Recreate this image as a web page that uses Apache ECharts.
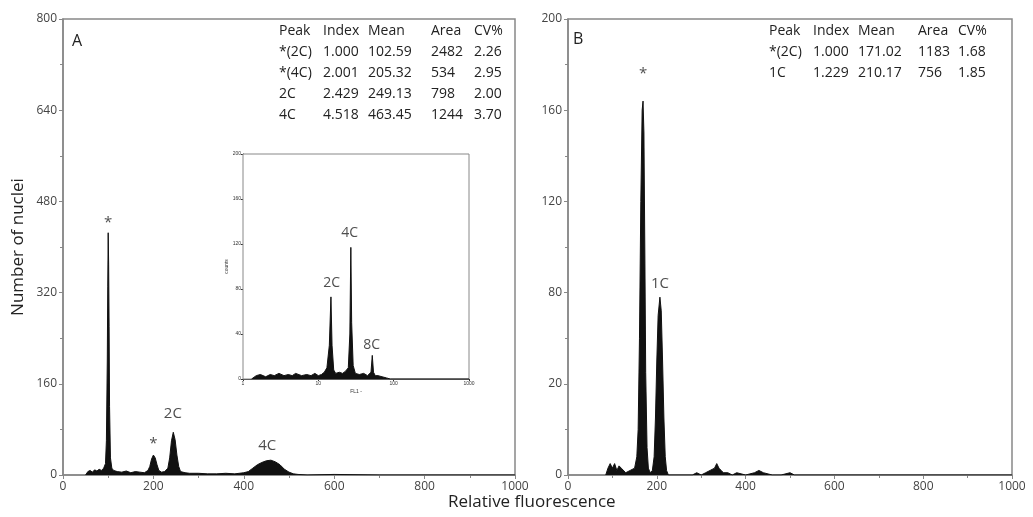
<!DOCTYPE html>
<html>
<head>
<meta charset="utf-8">
<script src="https://cdn.jsdelivr.net/npm/echarts@6/dist/echarts.min.js"></script>
<style>
  html, body { margin: 0; padding: 0; background: #fff; }
  #chart { width: 1033px; height: 517px; }
</style>
</head>
<body>
<div id="chart"></div>
<script>
// panel A histogram: [channel, count]
const histA = [
  [50, 0], [55, 6], [60, 8], [65, 5], [70, 9], [75, 7], [80, 10], [85, 8], [90, 12],
  [94, 20], [96, 60], [98, 200], [99, 330], [100, 425], [101, 370], [102, 260], [103, 120],
  [105, 30], [108, 12], [112, 8], [120, 6], [130, 5], [140, 7], [150, 4], [160, 6],
  [170, 5], [180, 4], [188, 8], [192, 15], [196, 28], [200, 35], [204, 30], [208, 18],
  [212, 8], [218, 5], [225, 6], [232, 12], [236, 30], [240, 60], [244, 75], [248, 62],
  [252, 35], [256, 15], [260, 6], [270, 4], [280, 3], [300, 3], [320, 2], [340, 2],
  [360, 3], [380, 2], [400, 4], [410, 6], [420, 12], [430, 18], [440, 22], [450, 25],
  [460, 26], [470, 23], [480, 18], [490, 10], [500, 5], [510, 2], [520, 1], [540, 0],
  [600, 1], [700, 0], [1000, 0]
]
// panel B histogram
const histB = [
  [85, 0], [90, 3], [95, 5], [100, 3], [105, 5], [110, 2], [115, 4], [120, 3], [130, 1],
  [140, 2], [150, 3], [155, 8], [158, 20], [161, 60], [164, 120], [167, 160], [169, 164],
  [171, 150], [173, 100], [175, 45], [178, 12], [181, 3], [185, 1], [190, 2], [194, 8],
  [197, 25], [200, 50], [203, 70], [207, 78], [210, 72], [213, 50], [216, 25], [219, 8],
  [222, 2], [226, 0], [280, 0], [290, 1], [300, 0], [310, 1], [320, 2], [330, 3], [335, 5],
  [340, 3], [345, 2], [350, 1], [360, 1], [370, 0], [380, 1], [400, 0], [420, 1], [430, 2],
  [440, 1], [460, 0], [480, 0], [500, 1], [510, 0], [1000, 0]
]
// inset (log channel axis)
const histInset = [
  [1.3, 0], [1.5, 3], [1.7, 4], [2, 2], [2.3, 4], [2.6, 3], [3, 5], [3.5, 3], [4, 4],
  [4.5, 3], [5, 5], [6, 3], [7, 4], [8, 3], [9, 5], [10, 3], [11, 4], [12, 6], [13, 10],
  [14, 30], [14.7, 73], [15.2, 30], [16, 8], [17, 5], [19, 6], [21, 5], [23, 7], [25, 10],
  [26.2, 40], [27, 117], [27.7, 50], [29, 12], [31, 5], [35, 4], [40, 5], [45, 3], [50, 6],
  [52, 21], [54, 6], [57, 3], [62, 3], [70, 2], [80, 1], [90, 0], [1000, 0]
]

const peakLabelsA = [['*', 100, 442], ['*', 200, 54], ['2C', 243, 107], ['4C', 452, 52]]
const peakLabelsB = [['*', 169, 176], ['1C', 207, 84]]
const peakLabelsInset = [['2C', 15, 85], ['4C', 26, 130], ['8C', 51, 30]]

const yTicksB = ['0', '20', '80', '120', '160', '200']

const tableHeader = ['Peak', 'Index', 'Mean', 'Area', 'CV%']
const tableA = [
  ['*(2C)', '1.000', '102.59', '2482', '2.26'],
  ['*(4C)', '2.001', '205.32', '534', '2.95'],
  ['2C', '2.429', '249.13', '798', '2.00'],
  ['4C', '4.518', '463.45', '1244', '3.70']
]
const tableB = [
  ['*(2C)', '1.000', '171.02', '1183', '1.68'],
  ['1C', '1.229', '210.17', '756', '1.85']
]

const FONT = 'Open Sans'
const AX = '#888'
const TXT = '#444'

const chart = echarts.init(document.getElementById('chart'))

function makeTable(rows, xs, y0) {
  const out = []
  const all = [tableHeader].concat(rows)
  all.forEach((r, i) => {
    r.forEach((t, j) => {
      out.push({
        type: 'text', left: xs[j], top: y0 + i * 21,
        style: { text: t, font: '14px "' + FONT + '"', fill: '#222' }
      })
    })
  })
  return out
}

function labelSeries(arr, xi, yi, size) {
  return {
    type: 'scatter', xAxisIndex: xi, yAxisIndex: yi, symbolSize: 0, silent: true,
    data: arr.map(d => ({ name: d[0], value: [d[1], d[2]] })),
    label: {
      show: true, position: 'inside', formatter: p => p.name,
      color: '#222', fontSize: size, fontFamily: FONT
    },
    z: 5
  }
}

function histSeries(data, xi, yi) {
  return {
    type: 'line', xAxisIndex: xi, yAxisIndex: yi, data: data, symbol: 'none',
    lineStyle: { color: '#111', width: 1 },
    areaStyle: { color: '#111', opacity: 1 },
    silent: true
  }
}

const plain = v => String(v)
const tick = { show: true, length: 4, lineStyle: { color: AX } }
const minor = { show: true, splitNumber: 2, length: 3, lineStyle: { color: AX } }
const line = { show: true, lineStyle: { color: AX, width: 1.5 } }
const lab = { color: TXT, fontSize: 12, fontFamily: FONT, margin: 6, formatter: plain }
const tiny = { show: true, lineStyle: { color: '#333' } }

chart.setOption({
  animation: false,
  backgroundColor: '#fff',
  grid: [
    { left: 63, top: 19, width: 452, height: 456, show: true, borderColor: AX, borderWidth: 1.5 },
    { left: 568, top: 19, width: 444, height: 456, show: true, borderColor: AX, borderWidth: 1.5 },
    { left: 243, top: 154, width: 226, height: 225, show: true, borderColor: AX, borderWidth: 1, backgroundColor: '#fff', z: 3 }
  ],
  xAxis: [
    { type: 'value', gridIndex: 0, min: 0, max: 1000, interval: 200, axisLine: line, axisTick: tick,
      minorTick: minor, splitLine: { show: false }, axisLabel: lab },
    { type: 'value', gridIndex: 1, min: 0, max: 1000, interval: 200, axisLine: line, axisTick: tick,
      minorTick: minor, splitLine: { show: false }, axisLabel: lab },
    { type: 'log', gridIndex: 2, min: 1, max: 1000, logBase: 10, axisLine: tiny,
      axisTick: { show: true, length: 2, lineStyle: { color: '#333' } }, splitLine: { show: false },
      axisLabel: { fontSize: 5, color: '#333', margin: 2, formatter: plain },
      name: 'FL1 -', nameLocation: 'middle', nameGap: 10, nameTextStyle: { fontSize: 5, color: '#333' } }
  ],
  yAxis: [
    { type: 'value', gridIndex: 0, min: 0, max: 800, interval: 160, axisLine: line, axisTick: tick,
      minorTick: minor, splitLine: { show: false }, axisLabel: lab,
      name: 'Number of nuclei', nameLocation: 'middle', nameGap: 36,
      nameTextStyle: { fontSize: 17, color: '#222', fontFamily: FONT } },
    { type: 'value', gridIndex: 1, min: 0, max: 200, interval: 40, axisLine: line, axisTick: tick,
      minorTick: minor, splitLine: { show: false },
      axisLabel: Object.assign({}, lab, { formatter: v => yTicksB[Math.round(v / 40)] }) },
    { type: 'value', gridIndex: 2, min: 0, max: 200, interval: 40, axisLine: tiny,
      axisTick: { show: true, length: 2, lineStyle: { color: '#333' } }, splitLine: { show: false },
      axisLabel: { fontSize: 5, color: '#333', margin: 2 },
      name: 'counts', nameLocation: 'middle', nameGap: 10, nameTextStyle: { fontSize: 5, color: '#333' } }
  ],
  series: [
    histSeries(histA, 0, 0),
    histSeries(histB, 1, 1),
    Object.assign(histSeries(histInset, 2, 2), { z: 4 }),
    labelSeries(peakLabelsA, 0, 0, 15),
    labelSeries(peakLabelsB, 1, 1, 15),
    Object.assign(labelSeries(peakLabelsInset, 2, 2, 14), { z: 6 })
  ],
  graphic: [
    { type: 'text', left: 72, top: 33, style: { text: 'A', font: '16px "' + FONT + '"', fill: '#222' } },
    { type: 'text', left: 573, top: 31, style: { text: 'B', font: '16px "' + FONT + '"', fill: '#222' } },
    { type: 'text', left: 448, top: 494, style: { text: 'Relative fluorescence', font: '17px "' + FONT + '"', fill: '#222' } }
  ].concat(makeTable(tableA, [279, 323, 368, 431, 474], 24))
   .concat(makeTable(tableB, [769, 813, 858, 918, 958], 24))
})
</script>
</body>
</html>
